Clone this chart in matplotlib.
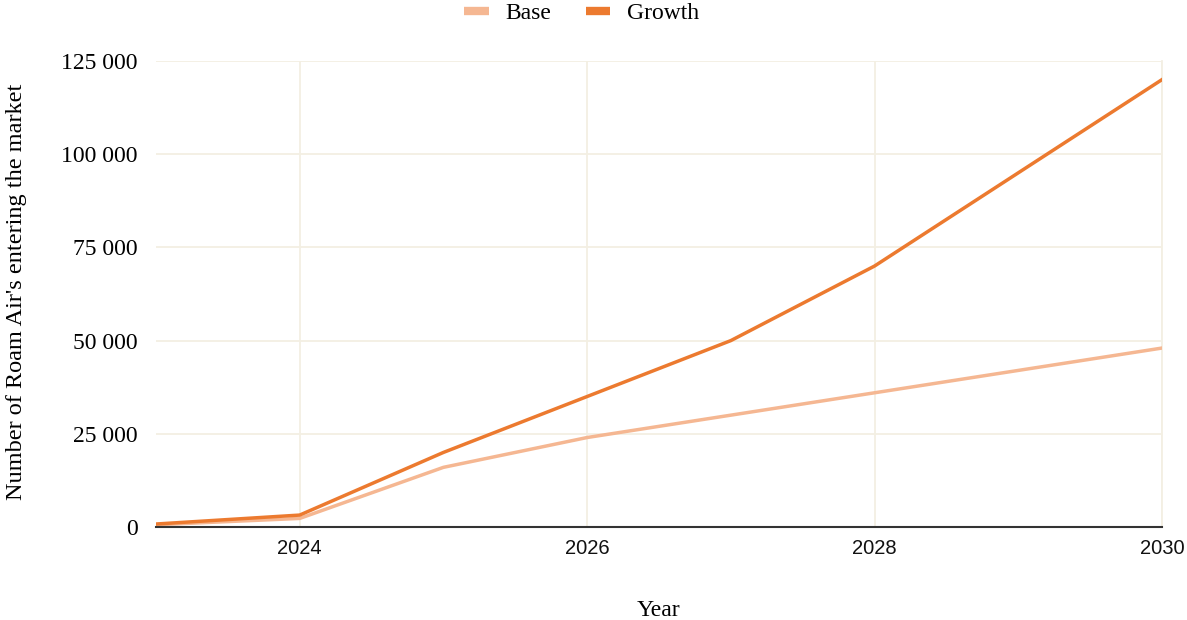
import matplotlib
matplotlib.use("Agg")
import matplotlib.pyplot as plt
from matplotlib.ticker import FuncFormatter

years = [2023, 2024, 2025, 2026, 2027, 2028, 2029, 2030]
base = [600, 2300, 16000, 24000, 30000, 36000, 42000, 48000]
growth = [800, 3200, 20000, 35000, 50000, 70000, 95000, 120000]
series_names = ["Base", "Growth"]
x_ticks = [2024, 2026, 2028, 2030]
y_ticks = [0, 25000, 50000, 75000, 100000, 125000]

serif = ["Liberation Serif", "DejaVu Serif"]
sans = ["Liberation Sans", "DejaVu Sans"]
grid_color = "#f3efe3"

fig = plt.figure(figsize=(11.87, 6.2), dpi=100)
ax = fig.add_axes([0.1314, 0.15, 0.8475, 0.7516])

ax.plot(years, base, color="#f5b792", lw=2.5, label=series_names[0], zorder=3)
ax.plot(years, growth, color="#ec7a2f", lw=2.5, label=series_names[1], zorder=4)

ax.set_xlim(2023, 2030)
ax.set_ylim(0, 125000)
ax.set_xticks(x_ticks)
ax.set_yticks(y_ticks)
ax.yaxis.set_major_formatter(FuncFormatter(lambda v, p: f"{int(v):,}".replace(",", " ")))

ax.grid(True, color=grid_color, lw=1.3, zorder=0)
for side in ["left", "top"]:
    ax.spines[side].set_visible(False)
ax.spines["right"].set_color(grid_color)
ax.spines["right"].set_linewidth(1.3)
ax.spines["bottom"].set_color("#333333")
ax.spines["bottom"].set_linewidth(1.5)
ax.spines["bottom"].set_zorder(5)

ax.tick_params(axis="y", length=0, pad=13, labelsize=17)
ax.tick_params(axis="x", length=0, pad=9, labelsize=14.5)
for t in ax.get_yticklabels():
    t.set_fontfamily(serif)
for t in ax.get_xticklabels():
    t.set_fontfamily(sans)
    t.set_color("#111111")

ax.set_xlabel("Year", fontfamily=serif, fontsize=17, labelpad=30)
ax.set_ylabel("Number of Roam Air's entering the market", fontfamily=serif,
              fontsize=17.5)
ax.yaxis.set_label_coords(-0.128, 0.505)

leg = fig.legend(loc="upper center", bbox_to_anchor=(0.49, 1.03), ncol=2,
                 frameon=False, prop={"family": serif, "size": 17},
                 handlelength=1.05, handletextpad=0.7, columnspacing=1.45)
for h in leg.get_lines():
    h.set_linewidth(6)
    h.set_solid_capstyle("butt")

fig.savefig("out.png", dpi=100, facecolor="white")
